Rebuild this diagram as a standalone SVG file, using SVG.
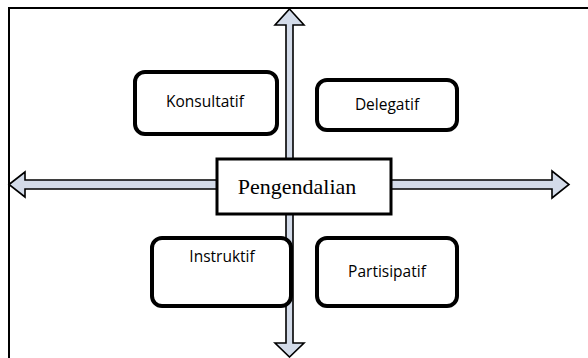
<svg xmlns="http://www.w3.org/2000/svg" width="588" height="358" viewBox="0 0 588 358">
<style>
.frame{fill:none;stroke:#000;stroke-width:2}
.arrow{fill:#d3dbe9;stroke:#000;stroke-width:1.6;stroke-linejoin:miter}
.rbox{fill:#fff;stroke:#000;stroke-width:4}
.cbox{fill:#fff;stroke:#000;stroke-width:3}
.lbl{font-family:"Open Sans","Liberation Sans",Arial,sans-serif;font-size:15.5px;fill:#000}
.main{font-family:"Liberation Serif","Times New Roman",serif;font-size:22px;fill:#000}
</style>
<rect class="frame" x="9" y="8" width="600" height="400"/>
<g id="connectors">
<polygon class="arrow" points="289.5,9 304,25 293,25 293,343 304,343 289.5,357 275,343 286,343 286,25 275,25"/>
<polygon class="arrow" points="9,184.5 25,172 25,180 552,180 552,171 569,184.5 552,198 552,189 25,189 25,197"/>
</g>
<g id="konsultatif">
<rect class="rbox" x="135" y="72" width="142" height="62" rx="10"/>
<text class="lbl" x="205" y="107" text-anchor="middle">Konsultatif</text>
</g>
<g id="delegatif">
<rect class="rbox" x="317" y="80" width="140" height="50" rx="10"/>
<text class="lbl" x="387" y="110" text-anchor="middle">Delegatif</text>
</g>
<g id="instruktif">
<rect class="rbox" x="152" y="238" width="139" height="68" rx="10"/>
<text class="lbl" x="222" y="262" text-anchor="middle">Instruktif</text>
</g>
<g id="partisipatif">
<rect class="rbox" x="317" y="238" width="140" height="68" rx="10"/>
<text class="lbl" x="387" y="277" text-anchor="middle">Partisipatif</text>
</g>
<g id="pengendalian">
<rect class="cbox" x="217" y="159" width="174" height="55"/>
<text class="main" x="297" y="194" text-anchor="middle">Pengendalian</text>
</g>
</svg>
